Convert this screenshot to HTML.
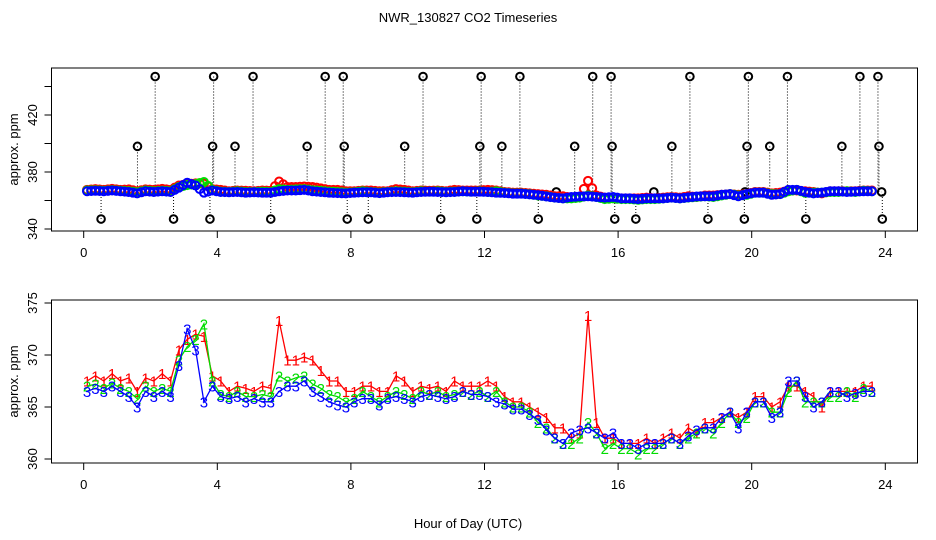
<!DOCTYPE html>
<html><head><meta charset="utf-8"><style>
body{margin:0;background:#fff}
svg{display:block;font-family:"Liberation Sans",sans-serif}
</style></head><body>
<svg id="chart" width="936" height="540" viewBox="0 0 936 540" xmlns="http://www.w3.org/2000/svg">
<rect width="936" height="540" fill="#fff"/>
<text x="468" y="22" font-size="13" text-anchor="middle">NWR_130827  CO2 Timeseries</text>
<text x="468" y="528" font-size="13" text-anchor="middle">Hour of Day (UTC)</text>
<g id="topPanel"></g>
<g id="botPanel"></g>
</svg>
<script>
const hours=[0.1,0.35,0.6,0.85,1.1,1.35,1.6,1.85,2.1,2.35,2.6,2.85,3.1,3.35,3.6,3.85,4.1,4.35,4.6,4.85,5.1,5.35,5.6,5.85,6.1,6.35,6.6,6.85,7.1,7.35,7.6,7.85,8.1,8.35,8.6,8.85,9.1,9.35,9.6,9.85,10.1,10.35,10.6,10.85,11.1,11.35,11.6,11.85,12.1,12.35,12.6,12.85,13.1,13.35,13.6,13.85,14.1,14.35,14.6,14.85,15.1,15.35,15.6,15.85,16.1,16.35,16.6,16.85,17.1,17.35,17.6,17.85,18.1,18.35,18.6,18.85,19.1,19.35,19.6,19.85,20.1,20.35,20.6,20.85,21.1,21.35,21.6,21.85,22.1,22.35,22.6,22.85,23.1,23.35,23.6];
const series1=[367.5,368,367.5,368.2,367.5,367.8,366.5,367.8,367.5,368.2,
367.5,370.5,371.5,372,371.8,368,367.5,366.5,367,366.8,
366.5,367,366.8,373.3,369.5,369.5,369.8,369.5,368.5,367.5,
367.5,366.5,366.5,367,367,366.5,366.5,368,367.5,366.5,
367,366.8,367,366.5,367.5,367,367,367,367.5,367,
366,365.5,365.5,365,364.5,364,363,363,362,362.5,
373.8,363.5,362,362,361.5,361.5,361.5,362,361.5,362,
362.5,362,363,362.5,363.5,363.5,364,364.5,364,364.5,
366,366,365,365.5,367,367,366.5,366,365,366.5,
366.5,366.5,366.5,367,367];
const series2=[367,367.2,366.8,367.3,366.8,366.5,365.8,367,366.5,366.8,
366.5,369.5,370.8,371.5,373,367.5,366.2,366,366.5,366,
366,366.2,366,368,367.5,367.8,368,367.2,366.8,366.2,
366,365.5,365.8,366.5,366,365.5,366,366.5,366.2,365.8,
366.5,366.2,366.5,366,366.2,366.5,366.2,366.5,366,366.5,
365.5,365,365,364.5,363.5,363,362,361.5,361.5,362,
363.5,362.5,361,361.5,361,361,360.5,361,361,361.5,
362,361.5,362,362.5,363,362.5,363.5,364.5,363.5,364,
365.5,365.5,364.5,364.5,366.5,367.5,365.5,365.5,365.5,366,
366,366.5,366,366.8,366.5];
const series3=[366.5,366.8,366.5,367,366.5,366,365,366.5,366,366.5,
366,369,372.5,370.5,365.5,367,366,365.8,366,365.5,
365.8,365.5,365.5,366.5,367,367,367.5,366.5,366,365.5,
365.2,365,365.5,365.8,365.8,365.2,365.8,366,365.8,365.5,
366,366.2,366,365.8,366,366.5,366.2,366.2,366,365.5,
365.3,364.8,364.8,364.3,363.8,362.8,362,361.5,362.5,362.8,
363,362.5,362,362.5,361.5,361.5,361,361.5,361.5,361.5,
362,361.5,362.2,362.8,363,363,364,364.5,363,364.5,
365.5,365.5,364,364.5,367.5,367.5,366,365,365.5,366.5,
366.5,366,366.3,366.5,366.5];
const outlierHours=[2.14,3.89,5.07,7.23,7.77,10.16,11.9,13.06,15.24,15.79,18.15,19.90,21.07,23.24,23.78,
1.61,3.86,4.53,6.69,7.80,9.61,11.86,12.52,14.70,15.82,17.61,19.86,20.54,22.70,23.81,
0.52,2.69,3.78,5.6,7.89,8.52,10.69,11.77,13.61,15.90,16.53,18.69,19.78,21.62,23.91,
14.15,17.07,19.8,23.89];
const outlierValues=[447,447,447,447,447,447,447,447,447,447,447,447,447,447,447,
398,398,398,398,398,398,398,398,398,398,398,398,398,398,398,
347,347,347,347,347,347,347,347,347,347,347,347,347,347,347,
366,366,366,366];
const xTicks=[0,4,8,12,16,20,24];
const topYTicks=[340,360,380,400,420,440];
const topYLabels=[340,380,420];
const botYTicks=[360,365,370,375];
const seriesColors=['#ff0000','#00dd00','#0000ff'];
const seriesNames=['1','2','3'];

const NS='http://www.w3.org/2000/svg';
function mk(parent,tag,attrs,text){const e=document.createElementNS(NS,tag);for(const k in attrs)e.setAttribute(k,attrs[k]);if(text!==undefined)e.textContent=text;parent.appendChild(e);return e;}
const X=h=>83.7+h*33.4;
const Ytop=v=>229-(v-340)*1.425;
const Ybot=v=>303+(375-v)*10.4;
const allSeries=[series1,series2,series3];

function frame(g,y0,y1,yTicks,yLabels,Y,prefix){
  const box=mk(g,'rect',{x:51.5,y:y0,width:866,height:y1-y0,fill:'none',stroke:'#000','stroke-width':1});
  
  
  const xa=mk(g,'g',{});
  
  
  mk(xa,'line',{x1:X(xTicks[0]),x2:X(xTicks[xTicks.length-1]),y1:y1,y2:y1,stroke:'#000'});
  xTicks.forEach(t=>{
    mk(xa,'line',{x1:X(t),x2:X(t),y1:y1,y2:y1+7,stroke:'#000'});
    const tl=mk(xa,'text',{x:X(t),y:y1+26,'font-size':13,'text-anchor':'middle'},String(t));
    
    
  });
  const ya=mk(g,'g',{});
  
  
  mk(ya,'line',{x1:51.5,x2:51.5,y1:Y(yTicks[0]),y2:Y(yTicks[yTicks.length-1]),stroke:'#000'});
  yTicks.forEach(t=>mk(ya,'line',{x1:44.5,x2:51.5,y1:Y(t),y2:Y(t),stroke:'#000'}));
  yLabels.forEach(t=>{
    const tl=mk(ya,'text',{x:0,y:0,'font-size':13,'text-anchor':'middle',transform:`translate(37,${Y(t)}) rotate(-90)`},String(t));
    
    
  });
  const yt=mk(g,'text',{x:0,y:0,'font-size':13,'text-anchor':'middle',transform:`translate(18,${(y0+y1)/2}) rotate(-90)`},'approx. ppm');
  
  
}

const topG=document.getElementById('topPanel');
frame(topG,68,231,topYTicks,topYLabels,Ytop,'top');
const og=mk(topG,'g',{});


outlierHours.forEach((h,i)=>{
  const v=outlierValues[i];
  mk(og,'line',{x1:X(h),x2:X(h),y1:Ytop(v),y2:Ytop(366),stroke:'#000','stroke-dasharray':'1,2'});
  const c=mk(og,'circle',{cx:X(h),cy:Ytop(v),r:3.8,fill:'none',stroke:'#000','stroke-width':2});
  
  
});
allSeries.forEach((s,k)=>{
  const sg=mk(topG,'g',{});
  
  
  const n=Math.min(s.length,hours.length);
  for(let i=0;i<n;i++){
    mk(sg,'circle',{cx:X(hours[i]),cy:Ytop(s[i]),r:4,fill:'none',stroke:seriesColors[k],'stroke-width':2});
    if(i<n-1) mk(sg,'circle',{cx:(X(hours[i])+X(hours[i+1]))/2,cy:(Ytop(s[i])+Ytop(s[i+1]))/2,r:4,fill:'none',stroke:seriesColors[k],'stroke-width':2});
  }
});

const botG=document.getElementById('botPanel');
frame(botG,300,463,botYTicks,botYTicks,Ybot,'bottom');
allSeries.forEach((s,k)=>{
  const sg=mk(botG,'g',{});
  
  
  const n=Math.min(s.length,hours.length);
  let d='';
  for(let i=0;i<n;i++) d+=(i?'L':'M')+X(hours[i]).toFixed(1)+','+Ybot(s[i]).toFixed(1);
  const p=mk(sg,'path',{d:d,fill:'none',stroke:seriesColors[k],'stroke-width':1.3});
  
  
  for(let i=0;i<n;i++){
    const t=mk(sg,'text',{x:X(hours[i]),y:Ybot(s[i])+5.5,'font-size':15,'text-anchor':'middle',fill:seriesColors[k]},seriesNames[k]);
    
    
  }
});
</script>
</body></html>
